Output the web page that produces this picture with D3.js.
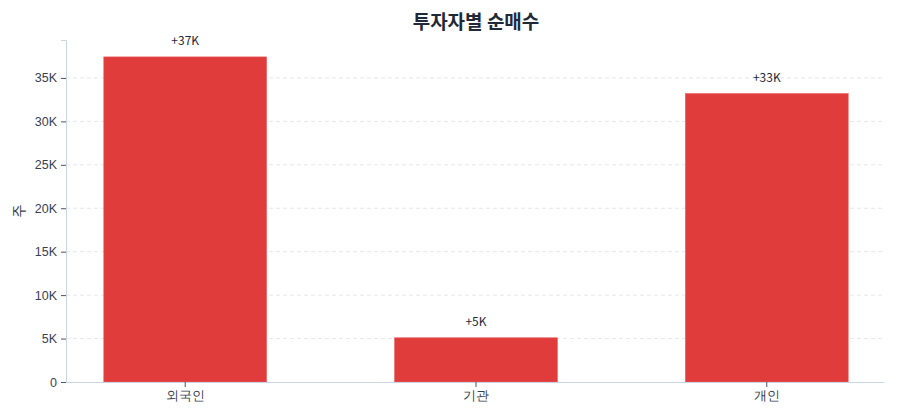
<!DOCTYPE html>
<html>
<head>
<meta charset="utf-8">
<script src="https://cdn.jsdelivr.net/npm/d3@7"></script>
<style>
  body { margin: 0; background: #fff; }
  svg { font-family: "Noto Sans CJK KR", "Noto Sans", sans-serif; }
</style>
</head>
<body>
<div id="chart"></div>
<script>
const investors = ['외국인', '기관', '개인'];
const netBuy = [37420, 5090, 33200];
const valueLabels = ['+37K', '+5K', '+33K'];
const yTicks = [0, 5000, 10000, 15000, 20000, 25000, 30000, 35000];

const width = 900, height = 420;
const margin = { top: 40, right: 14, bottom: 38, left: 66 };

const svg = d3.select('#chart').append('svg')
  .attr('width', width)
  .attr('height', height);

const x = d3.scaleBand()
  .domain(investors)
  .range([margin.left, width - margin.right])
  .paddingInner(0.44)
  .paddingOuter(0.13);

const y = d3.scaleLinear()
  .domain([0, d3.max(netBuy) * 1.052])
  .range([height - margin.bottom, margin.top]);

// grid lines
svg.append('g')
  .selectAll('line')
  .data(yTicks.slice(1))
  .enter().append('line')
  .attr('x1', margin.left)
  .attr('x2', width - 16)
  .attr('y1', d => y(d))
  .attr('y2', d => y(d))
  .attr('stroke', '#e5e7eb')
  .attr('stroke-dasharray', '4,3');

// bars
svg.append('g')
  .selectAll('rect')
  .data(netBuy)
  .enter().append('rect')
  .attr('x', (d, i) => x(investors[i]))
  .attr('y', d => y(d))
  .attr('width', x.bandwidth())
  .attr('height', d => y(0) - y(d))
  .attr('fill', '#e03c3c')
  .attr('stroke', '#e86060')
  .attr('stroke-width', 0.6);

// value labels
svg.append('g')
  .selectAll('text')
  .data(netBuy)
  .enter().append('text')
  .attr('x', (d, i) => x(investors[i]) + x.bandwidth() / 2)
  .attr('y', d => y(d) - 12)
  .attr('text-anchor', 'middle')
  .attr('font-size', 12)
  .attr('fill', '#1f2937')
  .text((d, i) => valueLabels[i]);

// y axis
const yAxis = svg.append('g')
  .attr('transform', `translate(${margin.left},0)`)
  .call(d3.axisLeft(y).tickValues(yTicks).tickSize(5).tickPadding(4)
    .tickFormat(d => d === 0 ? '0' : (d / 1000) + 'K'));
yAxis.select('.domain').attr('stroke', '#cbd5e1');
yAxis.selectAll('.tick line').attr('stroke', '#4b5563');
yAxis.selectAll('.tick text').attr('fill', '#374151').attr('font-size', 12.5);

// x axis
const xAxis = svg.append('g')
  .attr('transform', `translate(0,${height - margin.bottom})`)
  .call(d3.axisBottom(x).tickSize(5).tickPadding(4).tickSizeOuter(0));
xAxis.select('.domain').attr('stroke', '#cbd5e1').attr('d', `M${margin.left},0.5H${width - 16}`);
xAxis.selectAll('.tick line').attr('stroke', '#4b5563');
xAxis.selectAll('.tick text').attr('fill', '#374151').attr('font-size', 13);

// axis label
svg.append('text')
  .attr('transform', `translate(24,${(margin.top + height - margin.bottom) / 2}) rotate(-90)`)
  .attr('text-anchor', 'middle')
  .attr('font-size', 14)
  .attr('fill', '#374151')
  .text('주');

// title
svg.append('text')
  .attr('x', (margin.left + width - margin.right) / 2)
  .attr('y', 29)
  .attr('text-anchor', 'middle')
  .attr('font-size', 19)
  .attr('font-weight', 'bold')
  .attr('fill', '#1f2937')
  .text('투자자별 순매수');
</script>
</body>
</html>
